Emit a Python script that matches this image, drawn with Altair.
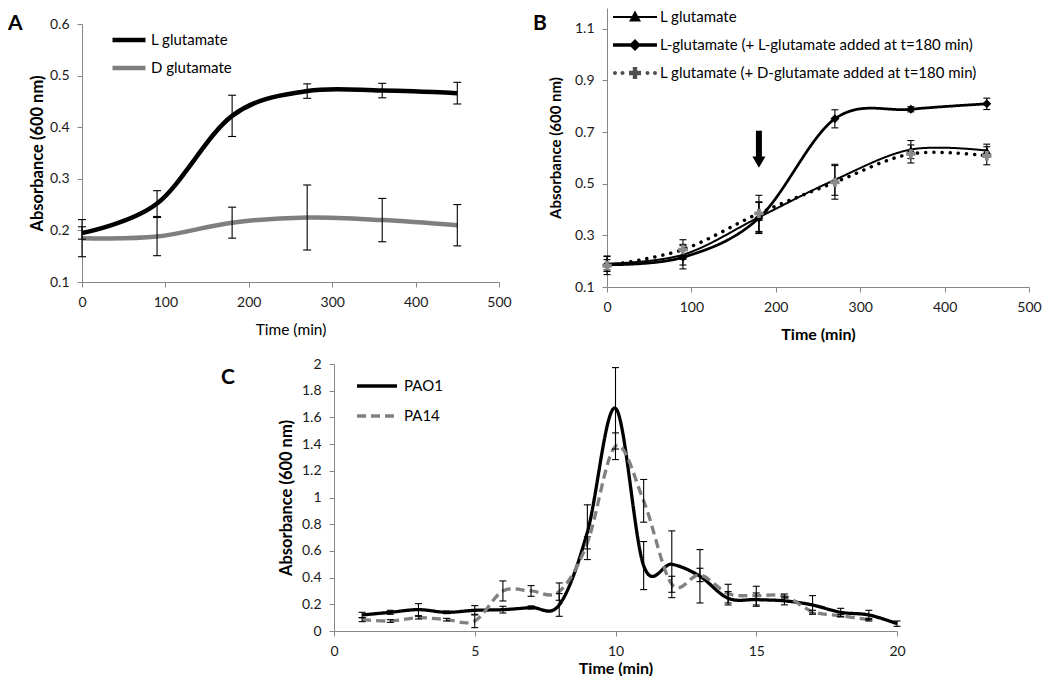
import altair as alt
import pandas as pd

FONT = "Lato"

# ---------------- Panel A ----------------
a_time = [0, 90, 180, 270, 360, 450]
a_series = ["L glutamate", "D glutamate"]
a_l_glu = [0.195, 0.252, 0.422, 0.470, 0.471, 0.466]
a_l_err = [0.012, 0.025, 0.040, 0.014, 0.014, 0.021]
a_d_glu = [0.185, 0.188, 0.215, 0.225, 0.220, 0.210]
a_d_err = [0.036, 0.037, 0.030, 0.063, 0.042, 0.040]
a_xticks = [0, 100, 200, 300, 400, 500]
a_yticks = [0.1, 0.2, 0.3, 0.4, 0.5, 0.6]

# ---------------- Panel B ----------------
b_time = [0, 90, 180, 270, 360, 450]
b_series = ["L glutamate",
            "L-glutamate (+ L-glutamate added at t=180 min)",
            "L glutamate (+ D-glutamate added at t=180 min)"]
b_s1 = [0.190, 0.225, 0.370, 0.515, 0.632, 0.628]
b_s1_err = [0.030, 0.040, 0.060, 0.060, 0.035, 0.025]
b_s2 = [0.186, 0.215, 0.367, 0.751, 0.788, 0.809]
b_s2_err = [0.020, 0.045, 0.060, 0.035, 0.010, 0.022]
b_s3 = [0.183, 0.245, 0.385, 0.505, 0.615, 0.608]
b_s3_err = [0.035, 0.038, 0.070, 0.065, 0.035, 0.035]
b_xticks = [0, 100, 200, 300, 400, 500]
b_yticks = [0.1, 0.3, 0.5, 0.7, 0.9, 1.1]
b_arrow_time = [180]
b_arrow_top = [0.705]
b_arrow_bottom = [0.598]
b_arrow_head = [0.583]

# ---------------- Panel C ----------------
c_series = ["PAO1", "PA14"]
c_time_pao1 = list(range(1, 21))
c_pao1 = [0.12, 0.14, 0.16, 0.14, 0.155, 0.16, 0.176, 0.195, 0.74, 1.668,
          0.49, 0.50, 0.41, 0.245, 0.235, 0.226, 0.195, 0.14, 0.12, 0.055]
c_pao1_err = [0.02, 0.015, 0.045, 0.01, 0.035, 0.025, 0.012, 0.085, 0.205, 0.305,
              0.18, 0.25, 0.20, 0.05, 0.05, 0.03, 0.07, 0.03, 0.035, 0.02]
c_time_pa14 = list(range(1, 20))
c_pa14 = [0.085, 0.075, 0.10, 0.085, 0.075, 0.30, 0.30, 0.295, 0.66, 1.384,
          0.975, 0.35, 0.42, 0.28, 0.265, 0.262, 0.145, 0.115, 0.085]
c_pa14_err = [0.015, 0.01, 0.01, 0.01, 0.05, 0.075, 0.04, 0.065, 0.045, 0.10,
              0.16, 0.06, 0.05, 0.07, 0.07, 0.015, 0.01, 0.01, 0.01]
c_xticks = [0, 5, 10, 15, 20]
c_yticks = [0, 0.2, 0.4, 0.6, 0.8, 1, 1.2, 1.4, 1.6, 1.8, 2]

AXIS_GRAY = "#868686"
INDEP = dict(color="independent", strokeDash="independent", shape="independent",
             size="independent", strokeWidth="independent")


def err_layers(base, xenc, yfun, cap):
    e = base.transform_calculate(lo="datum.v - datum.e", hi="datum.v + datum.e")
    rule = e.mark_rule(color="black", strokeWidth=1.1).encode(
        x=xenc, y=yfun("lo:Q"), y2="hi:Q")
    lo = e.mark_tick(orient="horizontal", color="black", size=cap,
                     thickness=1.1, opacity=1).encode(x=xenc, y=yfun("lo:Q"))
    hi = e.mark_tick(orient="horizontal", color="black", size=cap,
                     thickness=1.1, opacity=1).encode(x=xenc, y=yfun("hi:Q"))
    return [rule, lo, hi]


def letter(txt, dx, dy):
    return alt.Chart(pd.DataFrame({"label": [txt]})).mark_text(
        align="left", baseline="top", font=FONT, fontSize=21,
        fontWeight="bold", color="black").encode(
        text="label:N", x=alt.value(dx), y=alt.value(dy))


# ---------------- build A ----------------
dfA = pd.DataFrame({
    "t": a_time + a_time,
    "v": a_l_glu + a_d_glu,
    "e": a_l_err + a_d_err,
    "seriesA": [a_series[0]] * len(a_time) + [a_series[1]] * len(a_time),
})
baseA = alt.Chart(dfA)
xA = alt.X("t:Q", scale=alt.Scale(domain=[0, 500], nice=False),
           axis=alt.Axis(values=a_xticks, title="Time (min)",
                         titleFontWeight="normal", titleFontSize=15.5,
                         titlePadding=13))


def yA(field):
    return alt.Y(field, scale=alt.Scale(domain=[0.1, 0.6], range=[274, 16],
                                        nice=False, zero=False),
                 axis=alt.Axis(values=a_yticks, format=".1f",
                               title="Absorbance (600 nm)", titleFontSize=16.5,
                               titlePadding=4))


linesA = baseA.mark_line(interpolate="cardinal", strokeWidth=4.5).encode(
    x=xA, y=yA("v:Q"),
    color=alt.Color("seriesA:N", title=None,
                    scale=alt.Scale(domain=a_series, range=["#000000", "#7f7f7f"]),
                    legend=alt.Legend(orient="none", legendX=28, legendY=13,
                                      symbolType="stroke", symbolSize=1089,
                                      symbolStrokeWidth=4.5, labelFontSize=15,
                                      labelOffset=3, rowPadding=0,
                                      labelLimit=400)))
panelA = alt.layer(linesA, *err_layers(baseA, xA, yA, 8),
                   letter("A", -74, 5)).properties(width=417, height=274)

# ---------------- build B ----------------
dfB = pd.DataFrame({
    "t": b_time * 3,
    "v": b_s1 + b_s2 + b_s3,
    "e": b_s1_err + b_s2_err + b_s3_err,
    "seriesB": sum([[s] * len(b_time) for s in b_series], []),
})
baseB = alt.Chart(dfB)
xB = alt.X("t:Q", scale=alt.Scale(domain=[0, 500], nice=False),
           axis=alt.Axis(values=b_xticks, title="Time (min)", titleFontSize=16,
                         titlePadding=12))


def yB(field):
    return alt.Y(field, scale=alt.Scale(domain=[0.1, 1.18], nice=False, zero=False),
                 axis=alt.Axis(values=b_yticks, format=".1f",
                               title="Absorbance (600 nm)", titleFontSize=15,
                               titlePadding=11))


linesB = baseB.mark_line(interpolate="cardinal", color="black",
                         strokeCap="round").encode(
    x=xB, y=yB("v:Q"),
    strokeWidth=alt.StrokeWidth("seriesB:N", legend=None,
                                scale=alt.Scale(domain=b_series, range=[2, 3.5, 4])),
    strokeDash=alt.StrokeDash("seriesB:N", legend=None,
                              scale=alt.Scale(domain=b_series,
                                              range=[[1, 0], [1, 0], [0.1, 8]])))
pointsB = baseB.mark_point(filled=True, opacity=1).encode(
    x=xB, y=yB("v:Q"),
    shape=alt.Shape("seriesB:N", legend=None,
                    scale=alt.Scale(domain=b_series,
                                    range=["triangle-up", "diamond", "cross"])),
    color=alt.Color("seriesB:N", legend=None,
                    scale=alt.Scale(domain=b_series,
                                    range=["#000000", "#000000", "#8a8a8a"])),
    size=alt.Size("seriesB:N", legend=None,
                  scale=alt.Scale(domain=b_series, range=[70, 90, 120])))

# legend glyphs (line + marker), drawn in pixels relative to a 16px symbol cell
R = 8.0


def ux(px):
    return f"{(px - R) / R:.3f}"


def uy(py):
    return f"{py / R:.3f}"


def seg(x0, x1, h):
    return f"M{ux(x0)},{uy(-h / 2)}H{ux(x1)}V{uy(h / 2)}H{ux(x0)}Z"


def dot(cx, r=2.0):
    return (f"M{ux(cx - r)},0A{r / R:.3f},{r / R:.3f} 0 1,1 {ux(cx + r)},0"
            f"A{r / R:.3f},{r / R:.3f} 0 1,1 {ux(cx - r)},0Z")


MC = 22.0
leg_paths = [
    seg(0, 44, 2) + f"M{ux(MC)},{uy(-6.5)}L{ux(MC + 6)},{uy(4.5)}L{ux(MC - 6)},{uy(4.5)}Z",
    seg(0, 44, 3.5) + f"M{ux(MC)},{uy(-6)}L{ux(MC + 6)},0L{ux(MC)},{uy(6)}L{ux(MC - 6)},0Z",
    dot(2) + dot(9.5) + dot(34.5) + dot(42)
    + (f"M{ux(MC - 2.2)},{uy(-6)}H{ux(MC + 2.2)}V{uy(-2.2)}H{ux(MC + 6)}V{uy(2.2)}"
       f"H{ux(MC + 2.2)}V{uy(6)}H{ux(MC - 2.2)}V{uy(2.2)}H{ux(MC - 6)}V{uy(-2.2)}"
       f"H{ux(MC - 2.2)}Z"),
]
legB = alt.Legend(orient="none", legendX=6, legendY=1, symbolSize=int(4 * R * R),
                  symbolStrokeWidth=0, labelFontSize=15, labelOffset=31,
                  rowPadding=12, labelLimit=500)
legendB = baseB.transform_filter("false").mark_point(filled=True, opacity=1).encode(
    x=xB, y=yB("v:Q"),
    shape=alt.Shape("seriesB:N", title=None, legend=legB,
                    scale=alt.Scale(domain=b_series, range=leg_paths)),
    color=alt.Color("seriesB:N", title=None, legend=legB,
                    scale=alt.Scale(domain=b_series,
                                    range=["#000000", "#000000", "#505050"])))

dfArrow = pd.DataFrame({"t": b_arrow_time, "top": b_arrow_top,
                        "bottom": b_arrow_bottom, "head": b_arrow_head})
arrowShaft = alt.Chart(dfArrow).mark_rule(color="black", strokeWidth=6,
                                          strokeCap="butt").encode(
    x="t:Q", y="top:Q", y2="bottom:Q")
arrowHead = alt.Chart(dfArrow).mark_point(shape="triangle-down", filled=True,
                                          size=170, color="black", opacity=1).encode(
    x="t:Q", y="head:Q")

panelB = alt.layer(linesB, *err_layers(baseB, xB, yB, 7), pointsB, legendB,
                   arrowShaft, arrowHead, letter("B", -74, 5)).resolve_scale(
    **INDEP).properties(width=422, height=279)

# ---------------- build C ----------------
dfC = pd.DataFrame({
    "t": c_time_pao1 + c_time_pa14,
    "v": c_pao1 + c_pa14,
    "e": c_pao1_err + c_pa14_err,
    "seriesC": [c_series[0]] * len(c_time_pao1) + [c_series[1]] * len(c_time_pa14),
})
baseC = alt.Chart(dfC)
xC = alt.X("t:Q", scale=alt.Scale(domain=[0, 20], nice=False),
           axis=alt.Axis(values=c_xticks, title="Time (min)", titleFontSize=16,
                         titlePadding=2))


def yC(field):
    return alt.Y(field, scale=alt.Scale(domain=[0, 2], nice=False),
                 axis=alt.Axis(values=c_yticks, format="~g",
                               title="Absorbance (600 nm)", titleFontSize=16.5,
                               titlePadding=7))


legC = alt.Legend(orient="none", legendX=21, legendY=0, symbolType="stroke",
                  symbolSize=1600, symbolStrokeWidth=3.5, labelFontSize=15,
                  labelOffset=5, rowPadding=-3, labelLimit=400)
linesC = baseC.mark_line(interpolate="cardinal", strokeWidth=3.3).encode(
    x=xC, y=yC("v:Q"),
    color=alt.Color("seriesC:N", title=None, legend=legC,
                    scale=alt.Scale(domain=c_series, range=["#000000", "#808080"])),
    strokeDash=alt.StrokeDash("seriesC:N", title=None, legend=legC,
                              scale=alt.Scale(domain=c_series,
                                              range=[[1, 0], [9, 5]])))
panelC = alt.layer(linesC, *err_layers(baseC, xC, yC, 7),
                   letter("C", -113, 3)).properties(width=563, height=267)

spacer = alt.Chart(pd.DataFrame({"t": [0]})).mark_point(opacity=0).encode(
    x=alt.X("t:Q", axis=None), y=alt.Y("t:Q", axis=None)).properties(
    width=139, height=1)

chart = alt.vconcat(
    alt.hconcat(panelA, panelB, spacing=21).resolve_scale(**INDEP),
    alt.hconcat(spacer, panelC, spacing=0).resolve_scale(**INDEP),
    spacing=15,
).resolve_scale(**INDEP).properties(
    padding={"left": 0, "top": 0, "right": 0, "bottom": 0}
).configure(font=FONT).configure_view(stroke=None).configure_axis(
    grid=False, domainColor=AXIS_GRAY, tickColor=AXIS_GRAY, tickSize=5,
    domainWidth=1, tickWidth=1, labelFont=FONT, labelFontSize=14,
    labelColor="#1a1a1a", labelPadding=8, labelFlush=False, titleFont=FONT,
    titleColor="black", titleFontWeight="bold"
).configure_legend(labelFont=FONT, labelColor="black", padding=0)

chart.save("out.html", embed_options={"renderer": "svg", "actions": False})
